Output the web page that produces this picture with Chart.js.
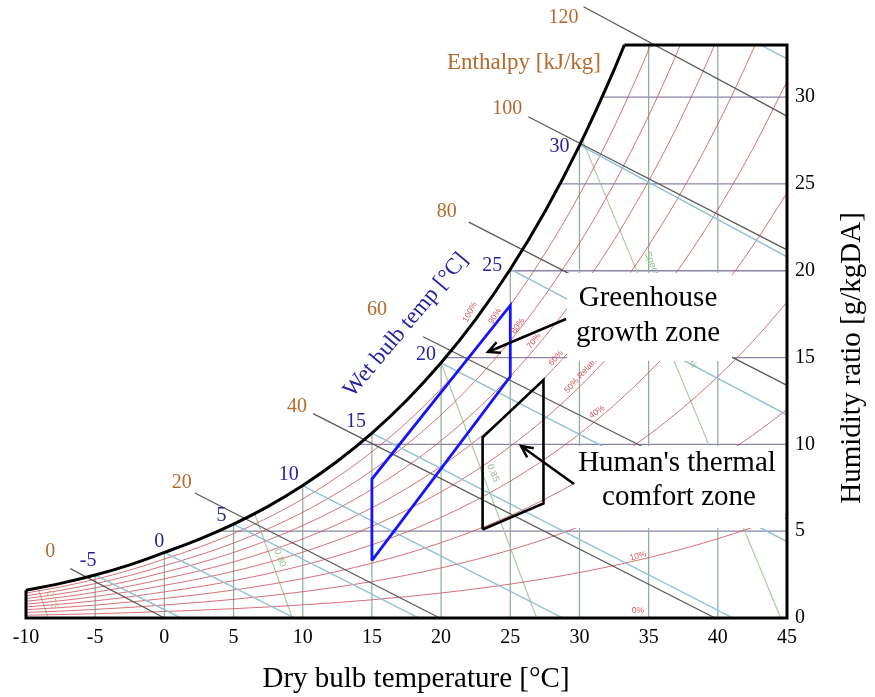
<!DOCTYPE html>
<html>
<head>
<meta charset="utf-8">
<title>Psychrometric chart</title>
<script src="https://cdn.jsdelivr.net/npm/chart.js@4.4.1/dist/chart.umd.min.js"></script>
<style>
  html, body { margin: 0; padding: 0; background: #fff; }
  #wrap { width: 875px; height: 697px; }
</style>
</head>
<body>
<div id="wrap"><canvas id="chart" width="875" height="697"></canvas></div>
<script>
// ---- Axis ticks ----
const xTicks = [-10, -5, 0, 5, 10, 15, 20, 25, 30, 35, 40, 45];
const yTicks = [0, 5, 10, 15, 20, 25, 30];
const W_MAX = 33;

// ---- Dry-bulb grid (°C) and saturation vapour pressure (kPa) ----
const dryBulbT    = [-10, -7.5, -5, -2.5, 0, 2.5, 5, 7.5, 10, 12.5, 15, 17.5, 20, 22.5, 25, 27.5, 30, 32.5, 33.25, 35, 37.5, 40, 42.5, 45];
const satPressure = [0.2599, 0.3237, 0.4017, 0.4966, 0.6112, 0.7317, 0.8726, 1.0370, 1.2282, 1.4497, 1.7057, 2.0006, 2.3392, 2.7266, 3.1697, 3.6737, 4.2467, 4.8942, 5.1070, 5.6290, 6.4553, 7.3849, 8.4240, 9.5950];

// ---- Relative humidity curves ----
const rhLevels = [0.1, 0.2, 0.3, 0.4, 0.5, 0.6, 0.7, 0.8, 0.9];

// ---- Grid lines ----
const dryBulbGrid = [-5, 0, 5, 10, 15, 20, 25, 30, 35, 40];
const humidityGrid = [5, 10, 15, 20, 25, 30];

// ---- Enthalpy lines (kJ/kg): start (outside the saturation curve) and end ----
const enthalpyValues = [0, 20, 40, 60, 80, 100, 120];
const enthalpyFromT  = [-6.8, 2.2, 10.75, 18.7, 22.0, 26.3, 30.3];
const enthalpyFromW  = [2.84, 7.2, 11.77, 16.2, 22.8, 28.87, 35.2];
const enthalpyToT    = [0, 19.9, 39.8, 45, 45, 45, 45];
const enthalpyToW    = [0, 0, 0, 5.7, 13.4, 21.2, 28.9];

// ---- Wet-bulb lines (°C) ----
const wetBulbValues = [-5, 0, 5, 10, 15, 20, 25, 30, 35];
const wetBulbFromT  = [-5, 0, 5, 10, 15, 20, 25, 30, 43.1];
const wetBulbFromW  = [2.47, 3.78, 5.40, 7.63, 10.65, 14.70, 20.09, 27.25, 33.0];
const wetBulbToT    = [1.2, 9.4, 18.4, 28.8, 41.1, 45, 45, 45, 45];
const wetBulbToW    = [0, 0, 0, 0, 0, 4.4, 11.7, 20.8, 32.2];

// ---- Specific volume lines (m³/kg) ----
const volumeValues = [0.75, 0.80, 0.85, 0.90];
const volumeFromT  = [-9.13, 6.55, 20.0, 30.2];
const volumeFromW  = [1.73, 5.95, 14.7, 27.55];
const volumeToT    = [-8.4, 9.25, 26.9, 44.55];
const volumeToW    = [0, 0, 0, 0];

// ---- Zones ----
const greenhouseT = [15, 15, 25, 25];
const greenhouseW = [3.3, 8.0, 18.0, 13.9];
const comfortT    = [23, 23, 27.4, 27.4];
const comfortW    = [5.1, 10.4, 13.7, 6.6];

// ---- Psychrometric relations ----
const P_ATM = 101.325;
function humidityRatio(ps, rh) {           // g water / kg dry air
  const pv = rh * ps;
  return 621.945 * pv / (P_ATM - pv);
}
const satW = satPressure.map(p => humidityRatio(p, 1));
function satAt(T) {
  for (let i = 0; i < dryBulbT.length - 1; i++) {
    if (T >= dryBulbT[i] && T <= dryBulbT[i + 1]) {
      const f = (T - dryBulbT[i]) / (dryBulbT[i + 1] - dryBulbT[i]);
      return satW[i] + f * (satW[i + 1] - satW[i]);
    }
  }
  return satW[satW.length - 1];
}
function satTempFor(W) {
  for (let i = 0; i < satW.length - 1; i++) {
    if (W >= satW[i] && W <= satW[i + 1]) {
      const f = (W - satW[i]) / (satW[i + 1] - satW[i]);
      return dryBulbT[i] + f * (dryBulbT[i + 1] - dryBulbT[i]);
    }
  }
  return dryBulbT[0];
}

// ---- Styles ----
const SERIF = '"Liberation Serif", "Times New Roman", serif';
const SANS = '"Liberation Sans", Arial, sans-serif';
const BROWN = '#b5692c';
const NAVY = '#23239e';

const datasets = [];
function addLine(points, style) {
  datasets.push(Object.assign({
    data: points, showLine: true, pointRadius: 0, pointHoverRadius: 0,
    borderWidth: 1, tension: 0, fill: false
  }, style));
}

// dry-bulb verticals, up to the saturation curve
dryBulbGrid.forEach(T => addLine(
  [{x: T, y: 0}, {x: T, y: Math.min(satAt(T), W_MAX)}],
  {borderColor: '#88ad9d', borderWidth: 1.2, order: 8}));

// humidity-ratio horizontals, from the saturation curve to the right edge
humidityGrid.forEach(W => addLine(
  [{x: satTempFor(W), y: W}, {x: 45, y: W}],
  {borderColor: '#8a83a4', borderWidth: 1.3, order: 8}));

// relative humidity curves
rhLevels.forEach(rh => addLine(
  dryBulbT.map((T, i) => ({x: T, y: humidityRatio(satPressure[i], rh)})),
  {borderColor: 'rgba(208,88,92,0.85)', borderWidth: 1, cubicInterpolationMode: 'monotone', order: 6}));

// specific volume
volumeValues.forEach((v, i) => addLine(
  [{x: volumeFromT[i], y: volumeFromW[i]}, {x: volumeToT[i], y: volumeToW[i]}],
  {borderColor: '#abcca2', borderWidth: 1.2, order: 7}));

// wet-bulb lines
wetBulbValues.forEach((v, i) => addLine(
  [{x: wetBulbFromT[i], y: wetBulbFromW[i]}, {x: wetBulbToT[i], y: wetBulbToW[i]}],
  {borderColor: '#8fc0d3', borderWidth: 1.4, order: 5}));

// enthalpy lines (run out past the saturation curve)
enthalpyValues.forEach((h, i) => addLine(
  [{x: enthalpyFromT[i], y: enthalpyFromW[i]}, {x: enthalpyToT[i], y: enthalpyToW[i]}],
  {borderColor: '#5a5a5a', borderWidth: 1.3, clip: false, order: 4}));

// saturation curve
const satEnd = dryBulbT.indexOf(33.25);
addLine(dryBulbT.slice(0, satEnd + 1).map((T, i) => ({x: T, y: satW[i]})),
  {borderColor: '#000', borderWidth: 3, cubicInterpolationMode: 'monotone', clip: false, order: 2});

// chart frame
addLine([{x: -10, y: satW[0]}, {x: -10, y: 0}, {x: 45, y: 0}, {x: 45, y: W_MAX}, {x: dryBulbT[satEnd], y: W_MAX}],
  {borderColor: '#000', borderWidth: 3, borderJoinStyle: 'miter', clip: false, order: 2});

// zones
function closed(ts, ws) {
  const pts = ts.map((t, i) => ({x: t, y: ws[i]}));
  pts.push(pts[0]);
  return pts;
}
addLine(closed(greenhouseT, greenhouseW), {borderColor: '#1414ff', borderWidth: 2.8, borderJoinStyle: 'miter', order: 0});
addLine(closed(comfortT, comfortW), {borderColor: '#000', borderWidth: 2.6, borderJoinStyle: 'miter', order: 0});

// ---- Label placement (pixel offsets / positions) ----
const enthalpyLabelOffset = [[-20, -17], [-13, -10], [-16, -7], [-46, -27], [-22, -10], [-21, -8], [-20, 11]];
const wetBulbLabelOffset  = [[-7, -14], [-5, -11], [-12, -8], [-14, -11], [-16, -11], [-15, -8], [-18, -3], [-20, 2]];
const rhLabels = [
  {t: '100%', x: 470, y: 312, a: -62},
  {t: '90%',  x: 495, y: 316, a: -58},
  {t: '80%',  x: 518, y: 326, a: -55},
  {t: '70%',  x: 534, y: 341, a: -52},
  {t: '60%',  x: 556, y: 358, a: -48},
  {t: '50% Relative Humidity', x: 566, y: 392, a: -48, align: 'left'},
  {t: '40%',  x: 597, y: 412, a: -35},
  {t: '10%',  x: 638, y: 556, a: -15},
  {t: '0%',   x: 638, y: 611, a: 0}
];
const volumeLabels = [
  {t: '0.75', x: 52, y: 600, a: 72, c: '#c9a67e'},
  {t: '0.80', x: 280, y: 558, a: 70, c: '#93bd8a'},
  {t: '0.85', x: 493, y: 473, a: 68, c: '#93bd8a'},
  {t: 'Specific Volume m³/kg Dry Air', x: 647, y: 252, a: 67.6, c: '#93bd8a', align: 'left'}
];

function text(ctx, s, x, y, o) {
  ctx.save();
  ctx.translate(x, y);
  if (o.angle) ctx.rotate(o.angle * Math.PI / 180);
  ctx.font = o.font;
  ctx.fillStyle = o.color || '#000';
  ctx.textAlign = o.align || 'center';
  ctx.textBaseline = o.baseline || 'middle';
  ctx.fillText(s, 0, 0);
  ctx.restore();
}
function arrow(ctx, x1, y1, x2, y2) {
  const ang = Math.atan2(y2 - y1, x2 - x1), L = 13, spread = 0.45;
  ctx.beginPath();
  ctx.moveTo(x1, y1); ctx.lineTo(x2, y2);
  ctx.moveTo(x2 - L * Math.cos(ang - spread), y2 - L * Math.sin(ang - spread));
  ctx.lineTo(x2, y2);
  ctx.lineTo(x2 - L * Math.cos(ang + spread), y2 - L * Math.sin(ang + spread));
  ctx.stroke();
}

const overlay = {
  id: 'overlay',
  afterDatasetsDraw(chart) {
    const ctx = chart.ctx;
    const X = v => chart.scales.x.getPixelForValue(v);
    const Y = v => chart.scales.y.getPixelForValue(v);
    ctx.save();

    // small line labels
    rhLabels.forEach(l => text(ctx, l.t, l.x, l.y, {angle: l.a, font: '8.5px ' + SANS, color: '#d0585c', align: l.align}));
    volumeLabels.forEach(l => text(ctx, l.t, l.x, l.y, {angle: l.a, font: '9.5px ' + SANS, color: l.c, align: l.align}));

    // zone captions on white boxes
    ctx.fillStyle = '#fff';
    ctx.fillRect(567, 273, 165, 88);
    ctx.fillRect(575, 446, 210, 82);
    const capFont = '29px ' + SERIF;
    text(ctx, 'Greenhouse', 648, 306, {font: capFont, baseline: 'alphabetic'});
    text(ctx, 'growth zone', 648, 341, {font: capFont, baseline: 'alphabetic'});
    text(ctx, "Human's thermal", 677, 471, {font: capFont, baseline: 'alphabetic'});
    text(ctx, 'comfort zone', 679, 505, {font: capFont, baseline: 'alphabetic'});

    // pointers
    ctx.strokeStyle = '#000';
    ctx.lineWidth = 2.5;
    ctx.lineCap = 'butt';
    arrow(ctx, 566, 319, 488, 352);
    arrow(ctx, 574, 484, 521, 446);

    // enthalpy labels
    enthalpyValues.forEach((h, i) => {
      const o = enthalpyLabelOffset[i];
      text(ctx, String(h), X(enthalpyFromT[i]) + o[0], Y(enthalpyFromW[i]) + o[1], {font: '20px ' + SERIF, color: BROWN});
    });
    text(ctx, 'Enthalpy [kJ/kg]', 524, 63, {font: '23px ' + SERIF, color: BROWN});

    // wet-bulb labels
    wetBulbValues.slice(0, wetBulbLabelOffset.length).forEach((t, i) => {
      const o = wetBulbLabelOffset[i];
      text(ctx, String(t), X(wetBulbFromT[i]) + o[0], Y(wetBulbFromW[i]) + o[1], {font: '20px ' + SERIF, color: NAVY});
    });
    text(ctx, 'Wet bulb temp [°C]', 406, 325, {angle: -50, font: '23px ' + SERIF, color: NAVY});

    // axis titles
    text(ctx, 'Dry bulb temperature [°C]', 416, 679, {font: '29px ' + SERIF});
    text(ctx, 'Humidity ratio [g/kgDA]', 852, 358, {angle: -90, font: '29px ' + SERIF});

    ctx.restore();
  }
};

new Chart(document.getElementById('chart'), {
  type: 'scatter',
  data: {datasets},
  plugins: [overlay],
  options: {
    responsive: false,
    animation: false,
    events: [],
    layout: {padding: {left: 26, top: 45, right: 0, bottom: 0}},
    plugins: {legend: {display: false}, tooltip: {enabled: false}},
    scales: {
      x: {
        type: 'linear', position: 'bottom', min: -10, max: 45,
        grid: {display: false, drawTicks: false},
        border: {display: false},
        ticks: {font: {family: SERIF, size: 20}, color: '#000', padding: 8, autoSkip: false, maxRotation: 0},
        afterBuildTicks: s => { s.ticks = xTicks.map(v => ({value: v})); },
        afterFit: s => { s.height = 79; }
      },
      y: {
        type: 'linear', position: 'right', min: 0, max: W_MAX,
        grid: {display: false, drawTicks: false},
        border: {display: false},
        ticks: {font: {family: SERIF, size: 20}, color: '#000', padding: 8, autoSkip: false},
        afterBuildTicks: s => { s.ticks = yTicks.map(v => ({value: v})); },
        afterFit: s => { s.width = 88; }
      }
    }
  }
});
</script>
</body>
</html>
